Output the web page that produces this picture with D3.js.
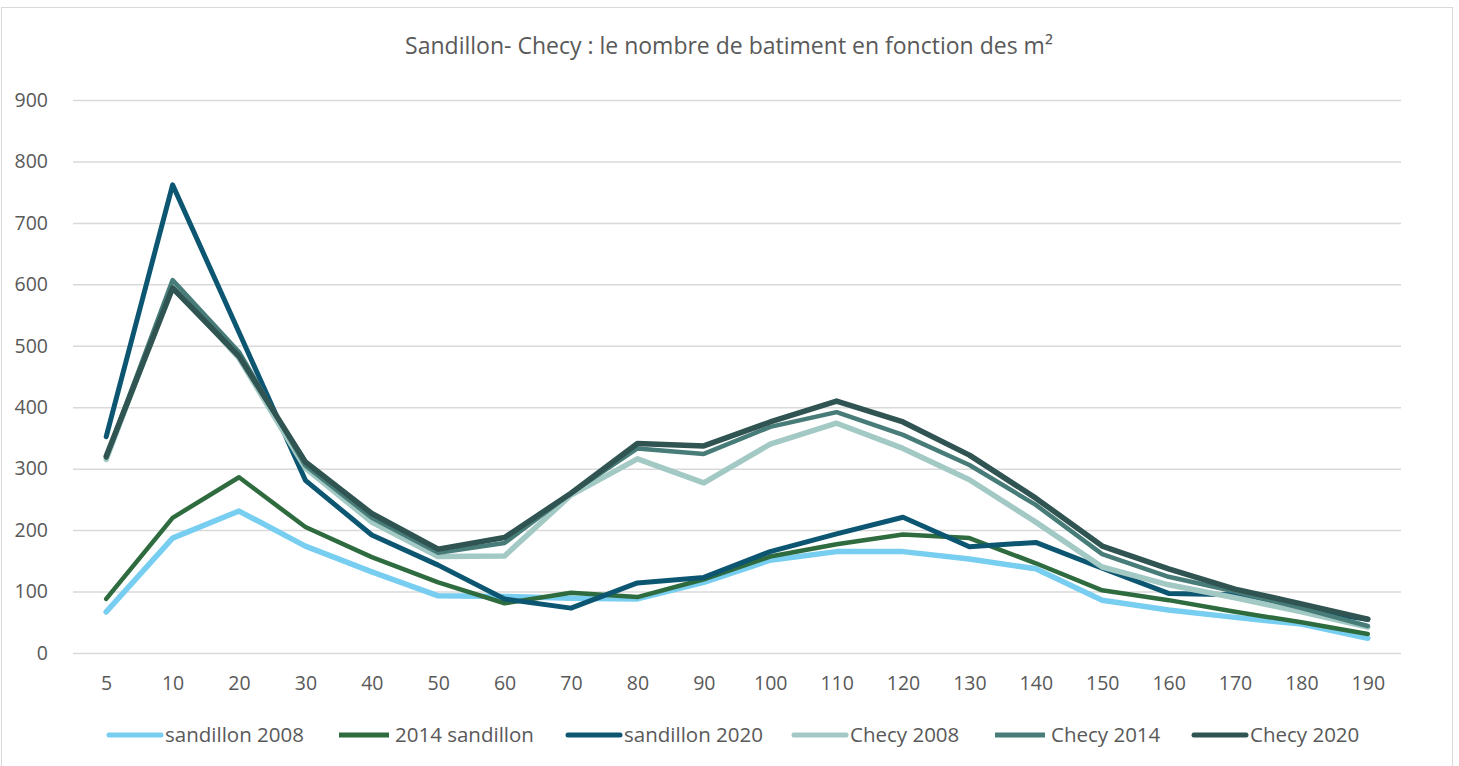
<!DOCTYPE html>
<html>
<head>
<meta charset="utf-8">
<script src="https://cdn.jsdelivr.net/npm/d3@7"></script>
<style>
  body { margin: 0; background: #fff; }
  text { font-family: "Open Sans", "Liberation Sans", sans-serif; fill: #595959; }
</style>
</head>
<body>
<div id="wrapper"></div>
<script>
// data
const surfaces = ["5","10","20","30","40","50","60","70","80","90","100","110","120","130","140","150","160","170","180","190"]
const sandillon2008 = [67,187,231,174,132,93,92,89,88,115,151,165,165,153,137,86,70,58,47,24]
const sandillon2014 = [88,220,286,205,156,115,81,98,91,120,157,177,193,187,146,102,86,67,50,31]
const sandillon2020 = [352,762,522,281,192,143,88,73,114,123,165,194,221,173,180,138,97,95,70,55]
const checy2008 = [315,600,480,301,213,157,158,257,316,277,340,374,333,282,213,140,111,90,67,42]
const checy2014 = [318,607,490,305,220,163,179,260,333,324,368,392,355,306,241,161,124,100,73,44]
const checy2020 = [320,594,483,311,227,169,188,260,341,337,376,410,376,322,252,174,137,104,80,55]
const yTicks = [0,100,200,300,400,500,600,700,800,900]

const series = [
  { name: "sandillon 2008", values: sandillon2008, color: "#78CEF0", width: 5.5, cap: "round" },
  { name: "2014 sandillon", values: sandillon2014, color: "#2E6B3E", width: 4.5, cap: "butt" },
  { name: "sandillon 2020", values: sandillon2020, color: "#0D5672", width: 5, cap: "round" },
  { name: "Checy 2008", values: checy2008, color: "#A3C9C5", width: 5.5, cap: "round" },
  { name: "Checy 2014", values: checy2014, color: "#487C78", width: 4.5, cap: "butt" },
  { name: "Checy 2020", values: checy2020, color: "#2F5451", width: 5.5, cap: "round" },
]

const dimensions = {
  width: 1459,
  height: 766,
  margin: { top: 100, right: 58, bottom: 113, left: 73 },
}
dimensions.boundedWidth = dimensions.width - dimensions.margin.left - dimensions.margin.right
dimensions.boundedHeight = dimensions.height - dimensions.margin.top - dimensions.margin.bottom

const svg = d3.select("#wrapper").append("svg")
    .attr("width", dimensions.width)
    .attr("height", dimensions.height)

// chart frame
svg.append("rect")
    .attr("x", 1.5).attr("y", 7.5)
    .attr("width", 1451).attr("height", 770)
    .attr("fill", "none")
    .attr("stroke", "#D9D9D9")

svg.append("text")
    .attr("x", 729)
    .attr("y", 54)
    .attr("text-anchor", "middle")
    .style("font-size", "23px")
    .text("Sandillon- Checy : le nombre de batiment en fonction des m²")

const bounds = svg.append("g")
    .attr("transform", `translate(${dimensions.margin.left},${dimensions.margin.top})`)

const xScale = d3.scalePoint()
    .domain(surfaces)
    .range([0, dimensions.boundedWidth])
    .padding(0.5)

const yScale = d3.scaleLinear()
    .domain([0, 900])
    .range([dimensions.boundedHeight, 0])

// gridlines
const yAxis = bounds.append("g")
    .call(d3.axisLeft(yScale).tickValues(yTicks).tickSize(-dimensions.boundedWidth).tickPadding(25))
yAxis.select(".domain").remove()
yAxis.selectAll("line").attr("stroke", "#D9D9D9").attr("stroke-width", 1.5)
yAxis.selectAll("text")
    .style("font-size", "19.5px")
    .style("font-family", "\"Open Sans\", sans-serif")
    .attr("fill", "#595959")

const xAxis = bounds.append("g")
    .attr("transform", `translate(0,${dimensions.boundedHeight})`)
    .call(d3.axisBottom(xScale).tickSize(0).tickPadding(23))
xAxis.select(".domain").remove()
xAxis.selectAll("text")
    .style("font-size", "19.5px")
    .style("font-family", "\"Open Sans\", sans-serif")
    .attr("fill", "#595959")

const lineGenerator = d3.line()
    .x((d, i) => xScale(surfaces[i]))
    .y(d => yScale(d))

bounds.selectAll(".serie")
  .data(series)
  .enter().append("path")
    .attr("class", "serie")
    .attr("d", d => lineGenerator(d.values))
    .attr("fill", "none")
    .attr("stroke", d => d.color)
    .attr("stroke-width", d => d.width)
    .attr("stroke-linejoin", "round")
    .attr("stroke-linecap", "round")

// legend
const legendX = [107, 339, 566, 792, 995, 1192]
const legend = svg.append("g")
const items = legend.selectAll("g")
  .data(series)
  .enter().append("g")
    .attr("transform", (d, i) => `translate(${legendX[i]},735)`)
items.append("line")
    .attr("x1", d => d.cap === "round" ? 2 : 0)
    .attr("x2", d => d.cap === "round" ? 54 : 50)
    .attr("stroke", d => d.color)
    .attr("stroke-width", 5)
    .attr("stroke-linecap", d => d.cap)
items.append("text")
    .attr("x", d => d.cap === "round" ? 58 : 56)
    .attr("y", 7)
    .style("font-size", "20.5px")
    .text(d => d.name)
</script>
</body>
</html>
